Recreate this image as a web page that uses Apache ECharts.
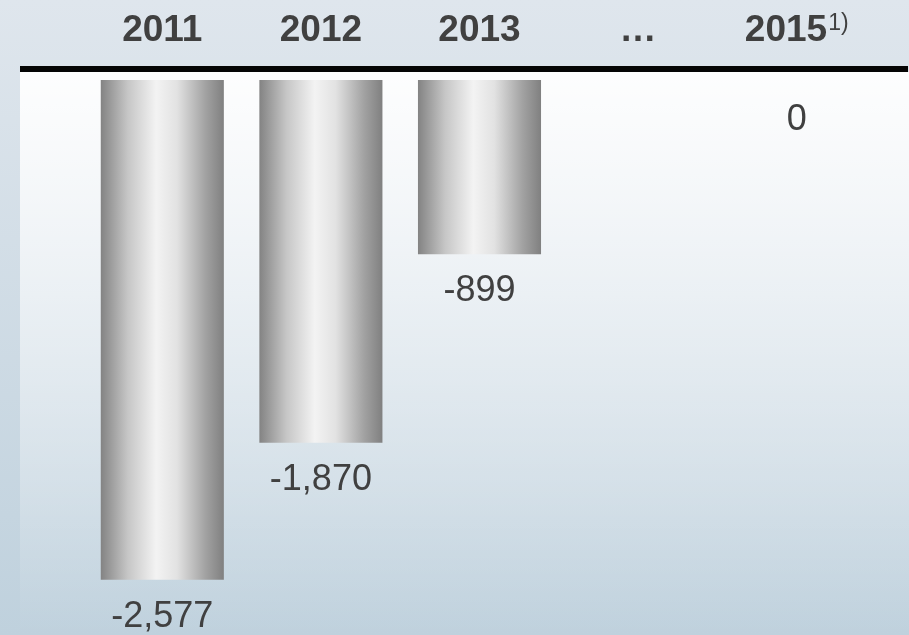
<!DOCTYPE html>
<html>
<head>
<meta charset="utf-8">
<script src="https://cdn.jsdelivr.net/npm/echarts@6/dist/echarts.min.js"></script>
<style>
  html, body { margin: 0; padding: 0; }
  #chart { width: 909px; height: 635px; }
</style>
</head>
<body>
<div id="chart"></div>
<script>
// Yearly results (negative = deficit), one bar per year
const categories = ['2011', '2012', '2013', '…', '2015'];
const footnotes = ['', '', '', '', '1)'];
const values = [-2577, -1870, -899, null, 0];

const FONT = '"Liberation Sans", Arial, Helvetica, sans-serif';
const TEXT = '#404040';

const barGradient = new echarts.graphic.LinearGradient(0, 0, 1, 0, [
  { offset: 0, color: '#838383' },
  { offset: 0.22, color: '#c6c6c6' },
  { offset: 0.45, color: '#f3f3f3' },
  { offset: 0.62, color: '#e2e2e2' },
  { offset: 0.85, color: '#a2a2a2' },
  { offset: 1, color: '#808080' }
]);

const barData = values.map(function (v) {
  if (v === null) return '-';
  const item = { value: v };
  if (v === 0) item.label = { distance: 22 };
  return item;
});

const chart = echarts.init(document.getElementById('chart'), null, { renderer: 'canvas' });

chart.setOption({
  animation: false,
  graphic: [
    {
      type: 'rect', z: -20, silent: true,
      shape: { x: 0, y: 0, width: 909, height: 635 },
      style: {
        fill: new echarts.graphic.LinearGradient(0, 0, 0, 1, [
          { offset: 0, color: '#dfe6ed' },
          { offset: 1, color: '#bfd1dd' }
        ])
      }
    },
    {
      type: 'rect', z: -19, silent: true,
      shape: { x: 20, y: 72, width: 889, height: 563 },
      style: {
        fill: new echarts.graphic.LinearGradient(0, 0, 0, 1, [
          { offset: 0, color: 'rgba(255,255,255,0.95)' },
          { offset: 1, color: 'rgba(255,255,255,0)' }
        ])
      }
    },
    {
      type: 'rect', z: 10, silent: true,
      shape: { x: 20, y: 66, width: 888, height: 6 },
      style: { fill: '#050505' }
    }
  ],
  grid: { left: 83, right: 33, top: 80, bottom: 12 },
  xAxis: {
    type: 'category',
    position: 'top',
    data: categories,
    axisLine: { show: false },
    axisTick: { show: false },
    axisLabel: {
      margin: 31,
      interval: 0,
      formatter: function (val, idx) {
        const note = footnotes[idx];
        return note ? '{b|' + val + '}{s|' + note + '}' : '{b|' + val + '}';
      },
      rich: {
        b: { fontFamily: FONT, fontSize: 37, fontWeight: 'bold', color: TEXT, lineHeight: 37 },
        s: { fontFamily: FONT, fontSize: 23, color: TEXT, lineHeight: 23, verticalAlign: 'top', padding: [0, 0, 0, 1] }
      }
    }
  },
  yAxis: {
    type: 'value',
    min: -2800,
    max: 0,
    show: false,
    splitLine: { show: false }
  },
  series: [{
    type: 'bar',
    data: barData,
    barWidth: '77.6%',
    itemStyle: { color: barGradient },
    label: {
      show: true,
      position: 'bottom',
      distance: 19,
      fontFamily: FONT,
      fontSize: 36,
      lineHeight: 36,
      color: TEXT,
      formatter: function (p) {
        return Number(p.value).toLocaleString('en-US');
      }
    }
  }]
});
</script>
</body>
</html>
